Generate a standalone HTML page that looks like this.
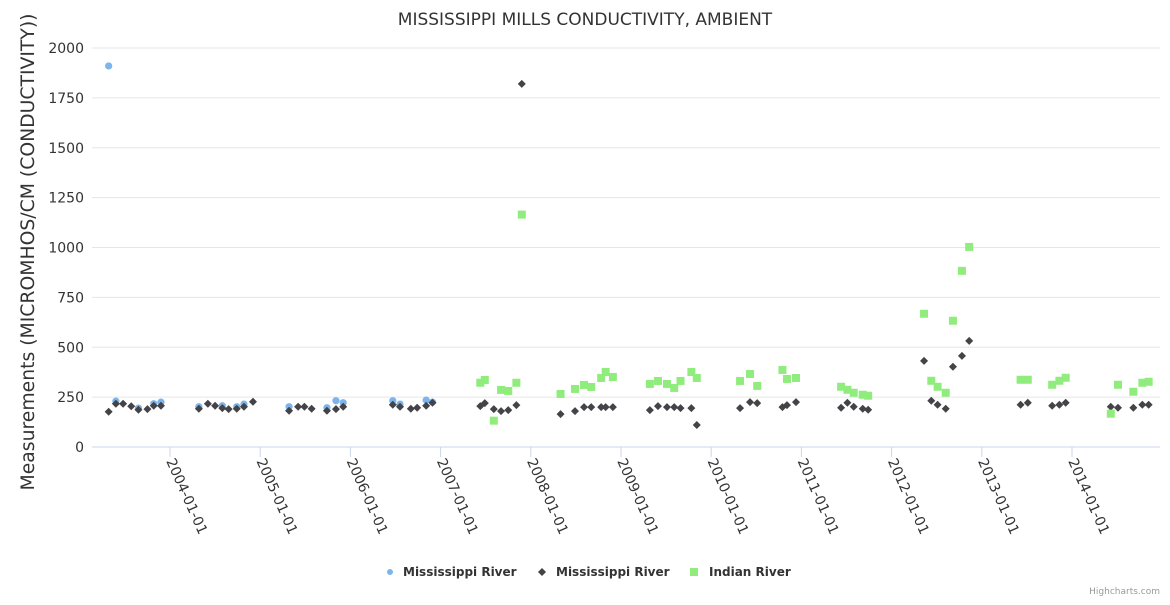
<!DOCTYPE html>
<html><head><meta charset="utf-8">
<style>
body{margin:0;background:#fff;font-family:"Liberation Sans","DejaVu Sans",sans-serif;}
svg text{font-family:"DejaVu Sans","Liberation Sans",sans-serif;}
</style></head>
<body>
<svg id="chart" width="1170" height="600" xmlns="http://www.w3.org/2000/svg">
<text x="585" y="25" text-anchor="middle" font-size="17" fill="#333">MISSISSIPPI MILLS CONDUCTIVITY, AMBIENT</text>
<text transform="translate(34,252) rotate(-90)" text-anchor="middle" font-size="18.8" fill="#333">Measurements (MICROMHOS/CM (CONDUCTIVITY))</text>
<g id="grid"></g><g id="xaxis"></g><g id="marks"></g>
<g id="legend" font-size="12" font-weight="bold" fill="#333">
<g><circle cx="390" cy="572" r="3" fill="#7cb5ec"/><text x="403" y="576">Mississippi River</text></g>
<g><path d="M542,568 L546,572 L542,576 L538,572Z" fill="#434348"/><text x="556" y="576">Mississippi River</text></g>
<g><rect x="690" y="568" width="8" height="8" fill="#90ed7d"/><text x="709" y="576">Indian River</text></g>
</g>
<text x="1160" y="594" text-anchor="end" font-size="9" fill="#999">Highcharts.com</text>
</svg>
<script>
const yTicks=[0,250,500,750,1000,1250,1500,1750,2000];
const xTickYears=[2004,2005,2006,2007,2008,2009,2010,2011,2012,2013,2014];
const blueX=[2003.32,2003.40,2003.65,2003.82,2003.90,2004.32,2004.58,2004.74,2004.82,2005.32,2005.74,2005.84,2005.92,2006.47,2006.55,2006.84,2006.91];
const blueY=[1910,230,195,217,225,202,207,202,215,202,197,232,222,232,215,235,225];
const darkX=[2003.32,2003.40,2003.48,2003.57,2003.65,2003.75,2003.82,2003.90,2004.32,2004.42,2004.50,2004.58,2004.65,2004.74,2004.82,2004.92,2005.32,2005.42,2005.49,2005.57,2005.74,2005.84,2005.92,2006.47,2006.55,2006.67,2006.74,2006.84,2006.91,2007.44,2007.49,2007.59,2007.67,2007.75,2007.84,2007.90,2008.33,2008.49,2008.59,2008.67,2008.78,2008.83,2008.91,2009.32,2009.41,2009.51,2009.59,2009.66,2009.78,2009.84,2010.32,2010.43,2010.51,2010.79,2010.84,2010.94,2011.44,2011.51,2011.58,2011.68,2011.74,2012.36,2012.44,2012.51,2012.60,2012.68,2012.78,2012.86,2013.43,2013.51,2013.78,2013.86,2013.93,2014.43,2014.51,2014.68,2014.78,2014.85];
const darkY=[177,217,217,204,187,190,207,207,192,217,207,195,190,192,202,227,182,202,202,192,182,190,202,212,202,192,197,207,222,205,220,190,180,185,210,1820,165,180,200,200,200,200,200,185,205,200,200,195,195,110,195,225,220,200,210,225,197,222,202,192,187,432,232,212,192,402,457,532,212,222,207,212,222,202,197,197,212,212];
const greenX=[2007.44,2007.49,2007.59,2007.67,2007.75,2007.84,2007.90,2008.33,2008.49,2008.59,2008.67,2008.78,2008.83,2008.91,2009.32,2009.41,2009.51,2009.59,2009.66,2009.78,2009.84,2010.32,2010.43,2010.51,2010.79,2010.84,2010.94,2011.44,2011.51,2011.58,2011.68,2011.74,2012.36,2012.44,2012.51,2012.60,2012.68,2012.78,2012.86,2013.43,2013.51,2013.78,2013.86,2013.93,2014.43,2014.51,2014.68,2014.78,2014.85];
const greenY=[322,336,132,286,281,322,1165,266,291,311,301,346,376,351,316,331,316,296,331,376,346,331,366,306,386,341,346,302,287,272,262,257,668,332,302,272,633,883,1003,337,337,312,332,347,167,312,277,322,327];

const NS='http://www.w3.org/2000/svg';
const X0=92,X1=1160,Y0=447,Y1=48;
function xs(v){return 170+(v-2004)*90.2;}
function ys(v){return Y0-(v/2000)*(Y0-Y1);}
function el(t,a,p){const e=document.createElementNS(NS,t);for(const k in a)e.setAttribute(k,a[k]);p.appendChild(e);return e;}
const grid=document.getElementById('grid'),xa=document.getElementById('xaxis'),marks=document.getElementById('marks');
yTicks.forEach(v=>{
  const l=el('line',{x1:X0,x2:X1,y1:ys(v),y2:ys(v),stroke:v===0?'#ccd6eb':'#e6e6e6','stroke-width':1},grid);
  
  
  const t=el('text',{x:84,y:ys(v)+5,'text-anchor':'end','font-size':14,fill:'#333'},grid);
  t.textContent=v;
  
  
});
xTickYears.forEach(y=>{
  const x=xs(y);
  const l=el('line',{x1:x,x2:x,y1:Y0,y2:Y0+10,stroke:'#ccd6eb'},xa);
  
  
  const t=el('text',{x:0,y:0,'font-size':14,fill:'#333',transform:`translate(${x-4},${Y0+14}) rotate(66)`},xa);
  t.textContent=y+'-01-01';
  
  
});
blueX.forEach((x,i)=>{
  const c=el('circle',{cx:xs(x),cy:ys(blueY[i]),r:3.6,fill:'#7cb5ec'},marks);
  
  
});
darkX.forEach((x,i)=>{
  const cx=xs(x),cy=ys(darkY[i]);
  const p=el('path',{d:`M${cx},${cy-4}L${cx+4},${cy}L${cx},${cy+4}L${cx-4},${cy}Z`,fill:'#434348'},marks);
  
  
});
greenX.forEach((x,i)=>{
  const r=el('rect',{x:xs(x)-4,y:ys(greenY[i])-4,width:8,height:8,fill:'#90ed7d'},marks);
  
  
});
</script>
</body></html>
